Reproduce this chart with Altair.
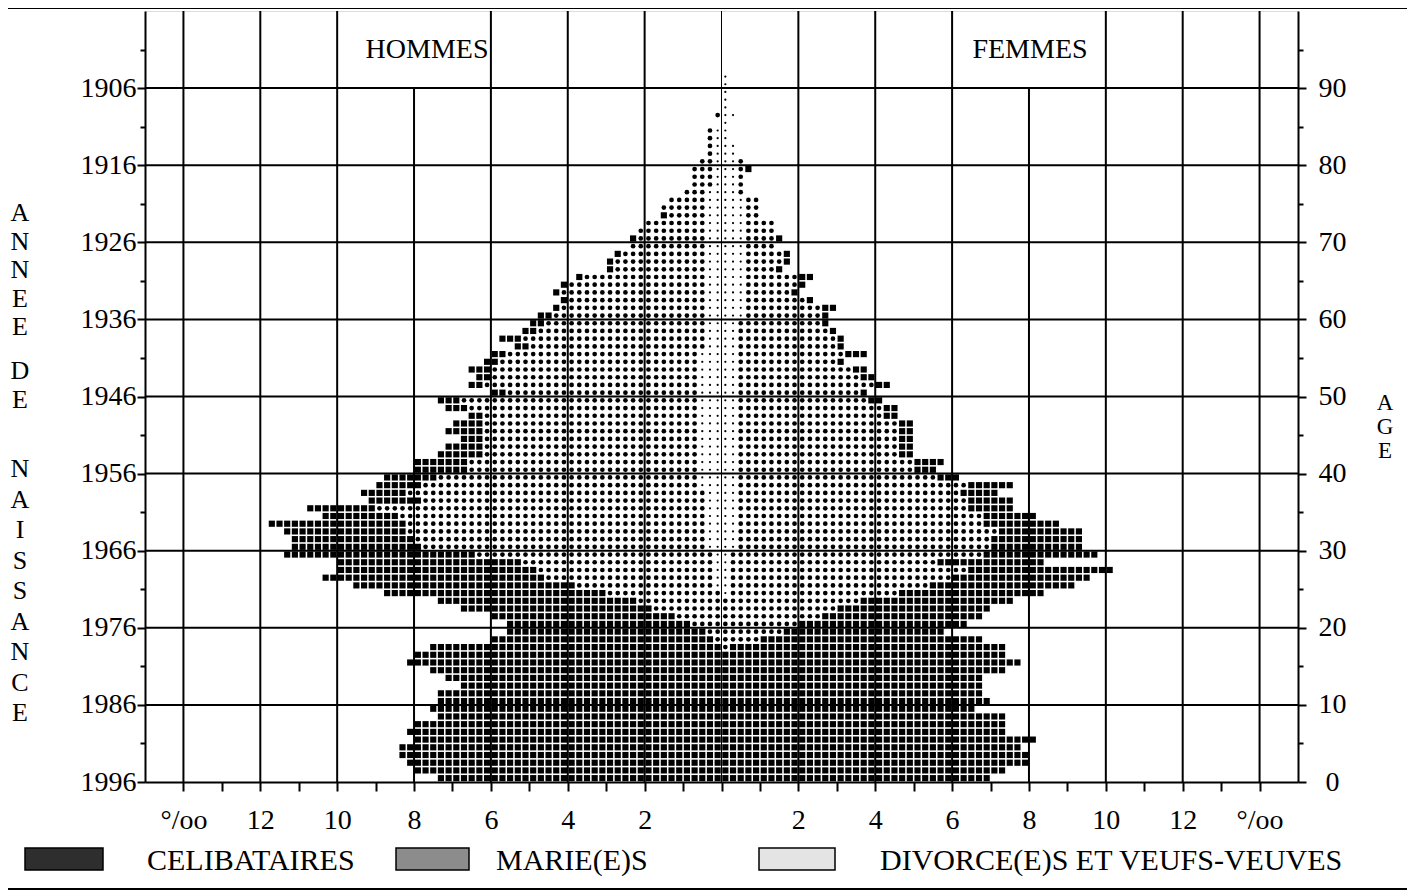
import altair as alt
import pandas as pd

# ---------------- data (per mille of total population, 1.1.1996) ----------------
ages = list(range(92))

men_celib = [
    7.4, 8.0, 8.2, 8.4, 8.4, 8.0, 8.2, 8.0, 7.4, 7.6,
    7.4, 7.4, 6.8, 7.2, 7.6, 8.2, 8.0, 7.6, 5.8, 5.2,
    4.8, 4.8, 5.0, 5.2, 5.8, 5.8, 5.8, 5.2, 4.8, 5.0,
    3.4, 3.2, 3.2, 3.6, 2.0, 1.8, 1.4, 1.2, 1.2, 1.4,
    1.4, 1.4, 1.2, 1.0, 0.6, 1.0, 0.8, 0.4, 0.6, 0.6,
    0.4, 0.4, 0.4, 0.6, 0.4, 0.4, 0.4, 0.6, 0.4, 0.4,
    0.4, 0.2, 0.2, 0.2, 0.2, 0.2, 0.2, 0.2, 0.2, 0.0,
    0.2, 0.0, 0.0, 0.2, 0.0, 0.0, 0.0, 0.0, 0.0, 0.0,
    0.0, 0.0, 0.0, 0.0, 0.0, 0.0, 0.0, 0.0, 0.0, 0.0,
    0.0, 0.0,
]
men_maries = [
    0.0, 0.0, 0.0, 0.0, 0.0, 0.0, 0.0, 0.0, 0.0, 0.0,
    0.0, 0.0, 0.0, 0.0, 0.0, 0.0, 0.0, 0.0, 0.2, 0.4,
    0.8, 1.2, 1.8, 2.2, 3.0, 3.6, 4.4, 4.6, 5.0, 6.2,
    7.4, 7.6, 7.8, 7.8, 8.0, 8.6, 7.4, 7.8, 7.2, 6.8,
    6.0, 6.0, 5.6, 5.6, 5.6, 5.6, 5.6, 5.6, 6.0, 6.2,
    5.0, 5.6, 5.4, 5.4, 5.2, 5.0, 4.6, 4.8, 4.4, 4.2,
    4.0, 3.8, 3.6, 3.8, 3.6, 3.2, 2.4, 2.4, 2.2, 2.0,
    1.8, 1.8, 1.6, 1.0, 1.2, 1.0, 0.6, 0.6, 0.6, 0.6,
    0.4, 0.2, 0.2, 0.2, 0.2, 0.0, 0.2, 0.0, 0.0, 0.0,
    0.0, 0.0,
]
men_div = [
    0.0, 0.0, 0.0, 0.0, 0.0, 0.0, 0.0, 0.0, 0.0, 0.0,
    0.0, 0.0, 0.0, 0.0, 0.0, 0.0, 0.0, 0.0, 0.0, 0.0,
    0.0, 0.0, 0.0, 0.0, 0.0, 0.2, 0.2, 0.2, 0.2, 0.2,
    0.4, 0.4, 0.4, 0.4, 0.4, 0.4, 0.4, 0.4, 0.6, 0.6,
    0.6, 0.6, 0.6, 0.6, 0.6, 0.6, 0.6, 0.6, 0.6, 0.6,
    0.6, 0.6, 0.6, 0.6, 0.6, 0.6, 0.4, 0.4, 0.4, 0.4,
    0.4, 0.4, 0.4, 0.4, 0.4, 0.4, 0.4, 0.4, 0.4, 0.4,
    0.4, 0.4, 0.4, 0.4, 0.4, 0.4, 0.4, 0.2, 0.2, 0.2,
    0.2, 0.2, 0.2, 0.2, 0.2, 0.0, 0.0, 0.0, 0.0, 0.0,
    0.0, 0.0,
]
women_celib = [
    7.0, 7.4, 8.0, 8.0, 7.8, 8.2, 7.4, 7.4, 7.4, 6.6,
    7.0, 6.8, 6.8, 6.8, 7.4, 7.8, 7.4, 7.2, 5.8, 4.2,
    4.4, 4.2, 4.0, 4.0, 3.8, 3.8, 3.6, 3.8, 2.8, 3.0,
    2.4, 2.4, 2.2, 2.0, 1.4, 1.2, 1.2, 1.0, 1.2, 0.6,
    0.6, 0.8, 0.4, 0.4, 0.4, 0.4, 0.4, 0.4, 0.4, 0.4,
    0.2, 0.4, 0.4, 0.4, 0.2, 0.6, 0.2, 0.2, 0.2, 0.2,
    0.2, 0.4, 0.2, 0.2, 0.2, 0.4, 0.2, 0.2, 0.2, 0.0,
    0.2, 0.0, 0.0, 0.0, 0.0, 0.0, 0.0, 0.0, 0.0, 0.2,
    0.0, 0.0, 0.0, 0.0, 0.0, 0.0, 0.0, 0.0, 0.0, 0.0,
    0.0, 0.0,
]
women_maries = [
    0.0, 0.0, 0.0, 0.0, 0.0, 0.0, 0.0, 0.0, 0.0, 0.0,
    0.0, 0.0, 0.0, 0.0, 0.0, 0.0, 0.0, 0.2, 1.0, 1.6,
    2.0, 2.6, 3.0, 3.6, 4.4, 5.2, 5.8, 6.2, 5.4, 6.6,
    6.6, 6.6, 6.8, 6.4, 6.4, 6.0, 6.0, 5.8, 6.0, 5.2,
    4.6, 4.6, 4.2, 4.2, 4.2, 4.2, 4.2, 3.8, 3.8, 3.4,
    3.2, 3.6, 3.2, 3.0, 2.6, 2.8, 2.6, 2.6, 2.4, 2.2,
    2.0, 2.0, 1.6, 1.2, 1.4, 1.4, 0.8, 1.0, 1.0, 0.8,
    0.8, 0.8, 0.8, 0.4, 0.4, 0.4, 0.2, 0.2, 0.2, 0.2,
    0.2, 0.0, 0.0, 0.0, 0.0, 0.0, 0.0, 0.0, 0.0, 0.0,
    0.0, 0.0,
]
women_div = [
    0.0, 0.0, 0.0, 0.0, 0.0, 0.0, 0.0, 0.0, 0.0, 0.0,
    0.0, 0.0, 0.0, 0.0, 0.0, 0.0, 0.0, 0.0, 0.0, 0.0,
    0.0, 0.0, 0.0, 0.0, 0.2, 0.2, 0.2, 0.2, 0.2, 0.2,
    0.4, 0.4, 0.4, 0.4, 0.4, 0.4, 0.4, 0.4, 0.4, 0.4,
    0.4, 0.4, 0.4, 0.4, 0.4, 0.4, 0.4, 0.4, 0.4, 0.4,
    0.4, 0.4, 0.4, 0.4, 0.4, 0.4, 0.4, 0.4, 0.4, 0.4,
    0.6, 0.6, 0.6, 0.6, 0.6, 0.6, 0.6, 0.6, 0.6, 0.6,
    0.6, 0.6, 0.6, 0.6, 0.6, 0.6, 0.4, 0.4, 0.4, 0.4,
    0.4, 0.4, 0.4, 0.2, 0.2, 0.2, 0.4, 0.2, 0.2, 0.2,
    0.2, 0.2,
]

statuts = ["CELIBATAIRES", "MARIE(E)S", "DIVORCE(E)S ET VEUFS-VEUVES"]
# stacking rank from the centre line outwards
rang = {"DIVORCE(E)S ET VEUFS-VEUVES": 0, "MARIE(E)S": 1, "CELIBATAIRES": 2}
sexes = ["HOMMES", "FEMMES"]
census_year = 1996
x_ticks = list(range(-14, 15))
y_ticks = list(range(0, 100, 5))
v_grid = [-14, -12, -10, -8, -6, -4, -2, 2, 4, 6, 8, 10, 12, 14]
h_grid = [10, 20, 30, 40, 50, 60, 70, 80, 90]
left_title_words = ["ANNEE", "DE", "NAISSANCE"]
right_title = "AGE"

rows = []
for sexe, series in zip(sexes, [[men_celib, men_maries, men_div],
                                [women_celib, women_maries, women_div]]):
    for statut, vals in zip(statuts, series):
        for a, v in zip(ages, vals):
            rows.append({"age": a, "sexe": sexe, "statut": statut,
                         "rang": rang[statut], "valeur": v})
df = pd.DataFrame(rows)

FONT = "Liberation Serif"
FS = 28
W, H = 1153, 771

xscale = alt.Scale(domain=[-15, 15], nice=False, zero=False)
yscale = alt.Scale(domain=[0, 100], nice=False, zero=False)

tick_cond = {"condition": {"test": "datum.value % 10 == 0", "value": 8}, "value": 5}

x_axis = alt.Axis(
    values=x_ticks,
    labelExpr="abs(datum.value) == 14 ? '°/oo' : (datum.value != 0 && datum.value % 2 == 0 ? format(abs(datum.value), 'd') : '')",
    grid=False, domain=True, domainColor="black", domainWidth=2,
    ticks=True, tickColor="black", tickWidth=2, tickSize=9,
    labelFont=FONT, labelFontSize=FS, labelColor="black",
    labelBaseline="alphabetic", labelPadding=37, labelOverlap=False, labelFlush=False,
    title=None,
)
y_axis_left = alt.Axis(
    orient="left", values=y_ticks,
    labelExpr=f"datum.value % 10 == 0 && datum.value <= 90 ? format({census_year} - datum.value, 'd') : ''",
    grid=False, domain=True, domainColor="black", domainWidth=2,
    ticks=True, tickColor="black", tickWidth=2, tickSize=tick_cond,
    labelFont=FONT, labelFontSize=FS, labelColor="black", labelPadding=1,
    labelOverlap=False, labelFlush=False, title=None,
)
y_axis_right = alt.Axis(
    orient="right", values=y_ticks,
    labelExpr="datum.value % 10 == 0 && datum.value <= 90 ? format(datum.value, 'd') : ''",
    grid=False, domain=True, domainColor="black", domainWidth=2,
    ticks=True, tickColor="black", tickWidth=2, tickSize=tick_cond,
    labelFont=FONT, labelFontSize=FS, labelColor="black", labelPadding=26,
    labelAlign="center", labelOverlap=False, labelFlush=False, title=None,
)

# ---------------- grid ----------------
vgrid = alt.Chart(pd.DataFrame({"g": v_grid})).transform_calculate(
    y0="0", y1="abs(datum.g) == 8 ? 90 : 100"
).mark_rule(color="black", strokeWidth=2).encode(
    x=alt.X("g:Q", scale=xscale, axis=None),
    y=alt.Y("y0:Q", scale=yscale, axis=None),
    y2="y1:Q",
)
center = alt.Chart(pd.DataFrame({"g": [0]})).mark_rule(color="black", strokeWidth=1).encode(
    x=alt.X("g:Q", scale=xscale, axis=None),
)
hgrid = alt.Chart(pd.DataFrame({"a": h_grid})).mark_rule(color="black", strokeWidth=2).encode(
    y=alt.Y("a:Q", scale=yscale, axis=y_axis_right),
)

# ---------------- dot-matrix pyramid (one printed square = 0.2 per mille) ----------------
pyramid = alt.Chart(df).transform_calculate(
    n="round(datum.valeur / 0.2)"
).transform_filter("datum.n > 0").transform_window(
    cum="sum(n)", groupby=["age", "sexe"],
    sort=[alt.SortField("rang", order="ascending")], frame=[None, 0],
).transform_calculate(
    k="sequence(datum.cum - datum.n, datum.cum)"
).transform_flatten(["k"]).transform_calculate(
    px="(datum.sexe == 'HOMMES' ? -1 : 1) * (datum.k + 0.5) * 0.2",
    py="datum.age + 0.5",
).mark_point(filled=True, opacity=1, strokeWidth=0, color="black").encode(
    x=alt.X("px:Q", scale=xscale, axis=x_axis),
    y=alt.Y("py:Q", scale=yscale, axis=y_axis_left),
    shape={"condition": {"test": "datum.statut == 'CELIBATAIRES'", "value": "square"},
           "value": "circle"},
    size={"condition": [
        {"test": "datum.statut == 'CELIBATAIRES'", "value": 38},
        {"test": "datum.statut == 'MARIE(E)S'", "value": 22}],
        "value": 5},
)

# ---------------- texts ----------------
def label(txt, x, y, align="center", size=FS):
    return alt.Chart(pd.DataFrame({"t": [txt]})).mark_text(
        font=FONT, fontSize=size, color="black", align=align, baseline="alphabetic"
    ).encode(text="t:N", x=alt.value(x), y=alt.value(y))

def stacked(word, x, y_top, pitch, size):
    # letters written one under the other (vertical axis caption)
    return alt.Chart(pd.DataFrame({"t": ["|".join(word)]})).mark_text(
        font=FONT, fontSize=size, color="black", align="center", baseline="top",
        lineBreak="|", lineHeight=pitch
    ).encode(text="t:N", x=alt.value(x), y=alt.value(y_top))

hommes = label(sexes[0], 282, 47)
femmes = label(sexes[1], 885, 47)

titles = [
    stacked(left_title_words[0], -125, 189, 28.5, 26),
    stacked(left_title_words[1], -125, 347, 29, 26),
    stacked(left_title_words[2], -125, 445, 30.5, 26),
    stacked(right_title, 1240, 381, 24, 23),
]

LEG_FS = 30

def box(x0, x1, fill):
    return alt.Chart(pd.DataFrame({"t": [0]})).mark_rect(
        fill=fill, stroke="black", strokeWidth=1.5
    ).encode(x=alt.value(x0), x2=alt.value(x1), y=alt.value(837), y2=alt.value(859))

leg = [
    box(-120, -42, "#2e2e2e"), label(statuts[0], 2, 859, "left", LEG_FS),
    box(251, 324, "#8c8c8c"), label(statuts[1], 351, 859, "left", LEG_FS),
    box(614, 690, "#e4e4e4"), label(statuts[2], 735, 859, "left", LEG_FS),
]

frame = alt.Chart(pd.DataFrame({"t": [0]})).mark_rect(
    fill="transparent", stroke="black", strokeWidth=2
).encode(x=alt.value(-141), x2=alt.value(1266), y=alt.value(-3), y2=alt.value(878))

chart = alt.layer(
    vgrid, center, hgrid, pyramid, hommes, femmes, *titles, *leg, frame
).resolve_scale(x="shared", y="shared").resolve_axis(x="independent", y="independent").properties(
    width=W, height=H,
    autosize=alt.AutoSizeParams(type="none"),
    padding={"left": 137, "top": 3, "right": 109, "bottom": 110},
).configure_view(stroke="black", strokeWidth=2).configure(background="white")

chart.save("out.html", embed_options={"renderer": "svg", "actions": False})
